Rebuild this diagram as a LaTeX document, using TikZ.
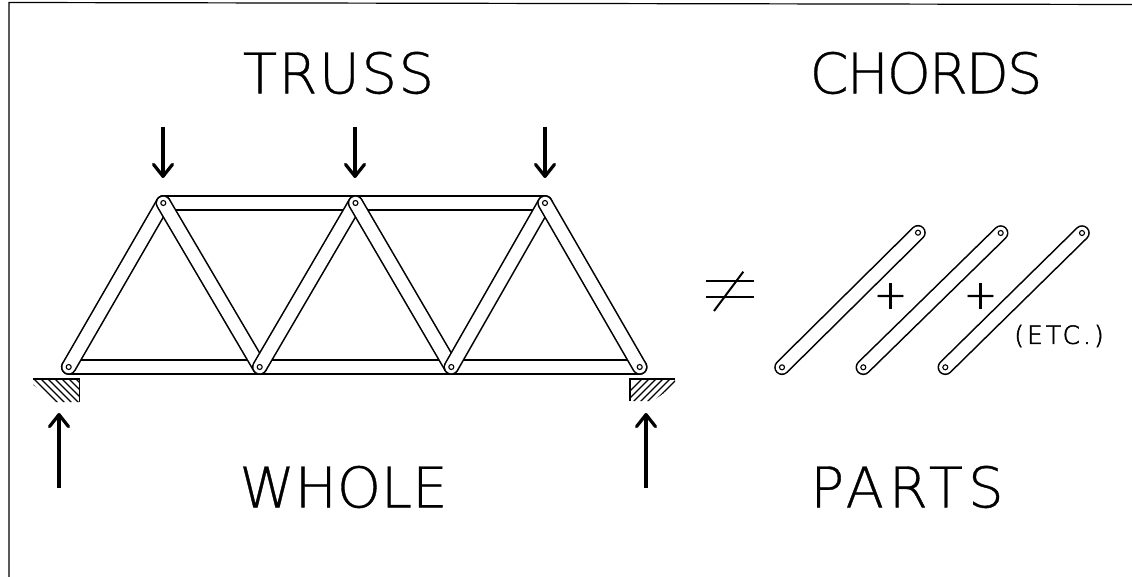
\documentclass[tikz,border=0pt]{standalone}
\usepackage{fontspec}
\newfontfamily\cadfont[FakeBold=0.6]{DejaVu Sans ExtraLight}
\newfontfamily\cadheavy[FakeBold=2]{DejaVu Sans ExtraLight}
\usetikzlibrary{arrows.meta}
\tikzset{
  barlink/.style={line width=1.6pt, double=white, double distance=12.4pt, line cap=round},
  pinhole/.style={circle, draw, fill=white, line width=1.1pt, inner sep=0pt, minimum size=5pt},
  loadarrow/.style={line width=3.2pt, -{Straight Barb[length=12pt,width=19pt,round]}},
  signline/.style={line width=2pt},
  titletext/.style={font=\cadfont\fontsize{56}{56}\selectfont, inner sep=0pt},
  smalltext/.style={font=\cadheavy\fontsize{25}{25}\selectfont, inner sep=0pt},
  plustext/.style={font=\cadheavy\fontsize{40}{40}\selectfont, inner sep=0pt},
}
\begin{document}
\begin{tikzpicture}[x=1pt, y=-1pt]
\useasboundingbox (0,0) rectangle (1132,577);
% frame
\draw[line width=1.2pt] (9,577) -- (9,2.5) -- (1132,4.5);
% joints of the truss
\coordinate (b1) at (68.7,367);
\coordinate (b2) at (259.7,367);
\coordinate (b3) at (451.3,367);
\coordinate (b4) at (639.7,367);
\coordinate (t1) at (163.3,203);
\coordinate (t2) at (355.5,203);
\coordinate (t3) at (545,203);
% chords
\draw[barlink] (t1) -- (t3);
\draw[barlink] (b1) -- (b4);
% diagonals
\draw[barlink] (b1) -- (t1);
\draw[barlink] (t1) -- (b2);
\draw[barlink] (b2) -- (t2);
\draw[barlink] (t2) -- (b3);
\draw[barlink] (b3) -- (t3);
\draw[barlink] (t3) -- (b4);
\foreach \j in {b1,b2,b3,b4,t1,t2,t3}
  \node[pinhole] (pin\j) at (\j) {};
% supports
\draw[line width=1.5pt] (33.3,379) -- (79.3,379) -- (79.3,402);
\begin{scope}
  \clip (33.3,379) -- (79.3,379) -- (79.3,402) -- (56,402) -- (33.3,385) -- cycle;
  \foreach \i in {0,...,9}
    \draw[line width=1.2pt] (20+\i*7,379) -- (50+\i*7,409);
\end{scope}
\draw[line width=1.5pt] (630,401) -- (630,379) -- (675,379);
\begin{scope}
  \clip (630,379) -- (675,379) -- (675,385) -- (653,401) -- (630,401) -- cycle;
  \foreach \i in {0,...,9}
    \draw[line width=1.2pt] (612+\i*7,409) -- (642+\i*7,379);
\end{scope}
% loads
\foreach \x/\n in {163/a,355/b,545/c} {
  \coordinate (load\n s) at (\x,127);
  \coordinate (load\n e) at (\x,178);
  \draw[loadarrow] (load\n s) -- (load\n e);
}
\coordinate (reactls) at (59,488);
\coordinate (reactle) at (59,413);
\draw[loadarrow] (reactls) -- (reactle);
\coordinate (reactrs) at (646,488);
\coordinate (reactre) at (646,413);
\draw[loadarrow] (reactrs) -- (reactre);
% loose members
\coordinate (m1a) at (782,367.3);
\coordinate (m1b) at (918,232.7);
\coordinate (m2a) at (863.3,367.3);
\coordinate (m2b) at (1000.7,233);
\coordinate (m3a) at (945.3,367.3);
\coordinate (m3b) at (1082,233);
\foreach \m in {1,2,3} {
  \draw[barlink] (m\m a) -- (m\m b);
  \node[pinhole] (pinm\m a) at (m\m a) {};
  \node[pinhole] (pinm\m b) at (m\m b) {};
}
% signs
\draw[signline] (705.7,281) -- (754.3,281);
\draw[signline] (705.7,297.3) -- (754.3,297.3);
\draw[signline] (714,311) -- (743.3,271.7);
% labels
\node[titletext] (truss) at (338.5,73) {\addfontfeature{LetterSpace=2.7}TRUSS};
\node[titletext] (chords) at (926,73) {\addfontfeature{LetterSpace=-3.6}CHORDS};
\node[titletext] (whole) at (343.5,487) {WHOLE};
\node[titletext] (parts) at (907,487) {\addfontfeature{LetterSpace=9}PARTS};
\node[smalltext] (etc) at (1059,336) {\addfontfeature{LetterSpace=12}(ETC.)};
\node[plustext] (plusa) at (890.5,296) {+};
\node[plustext] (plusb) at (980.5,296) {+};
\end{tikzpicture}
\end{document}
